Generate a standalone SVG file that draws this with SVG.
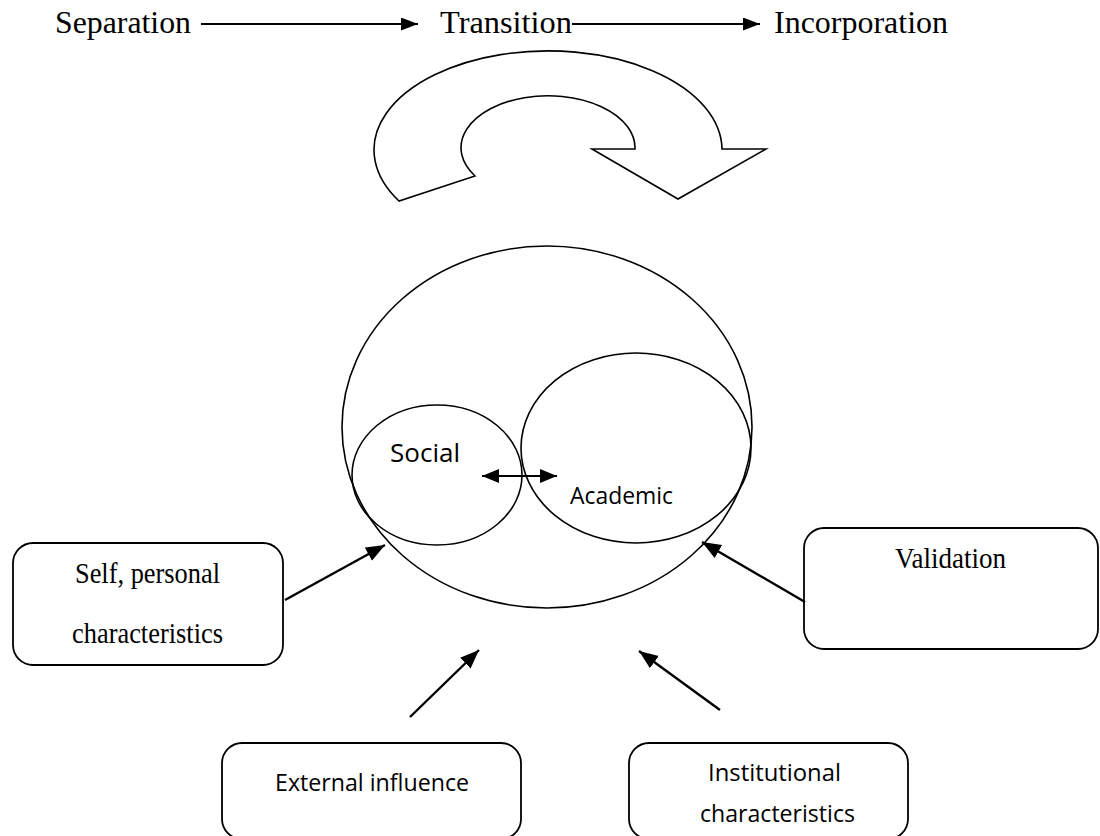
<svg xmlns="http://www.w3.org/2000/svg" width="1100" height="836" viewBox="0 0 1100 836">
<style>
.bg{fill:#fff}
.shape{fill:none;stroke:#000;stroke-width:1.6}
.box{fill:#fff;stroke:#000;stroke-width:1.8}
.serif{font-family:"Liberation Serif","Times New Roman",serif;fill:#000}
.sans{font-family:"Open Sans","Noto Sans","Liberation Sans",sans-serif;fill:#000}
.thin{stroke:#000;stroke-width:1.9;fill:none}
.conn{stroke:#000;stroke-width:2.4;fill:none}
</style>
<defs>
<marker id="headS" markerUnits="userSpaceOnUse" markerWidth="18" markerHeight="14" refX="17" refY="6.5" orient="auto">
<path d="M0,0 L17,6.5 L0,13 Z" fill="#000"/>
</marker>
<marker id="headL" markerUnits="userSpaceOnUse" markerWidth="20" markerHeight="16" refX="19" refY="7.5" orient="auto">
<path d="M0,0 L19,7.5 L0,15 Z" fill="#000"/>
</marker>
<marker id="headD" markerUnits="userSpaceOnUse" markerWidth="20" markerHeight="16" refX="17" refY="7" orient="auto-start-reverse">
<path d="M0,0 L17,7 L0,14 Z" fill="#000"/>
</marker>
</defs>
<rect class="bg" x="0" y="0" width="1100" height="836"/>

<g id="stage-separation"><text class="serif" x="55" y="33" font-size="31" textLength="136" lengthAdjust="spacingAndGlyphs">Separation</text></g>
<g id="stage-transition"><text class="serif" x="440" y="33" font-size="31" textLength="132" lengthAdjust="spacingAndGlyphs">Transition</text></g>
<g id="stage-incorporation"><text class="serif" x="774" y="33" font-size="31" textLength="174" lengthAdjust="spacingAndGlyphs">Incorporation</text></g>

<g id="cycle-arrow">
<path class="shape" d="M399,201 A174,99 0 1 1 722,149 L766,149 L678,199 L592,149 L635,149 A87,52 0 1 0 475,176 Z"/>
</g>

<g id="outer-circle"><ellipse class="shape" cx="547" cy="427" rx="205" ry="181"/></g>
<g id="social">
<ellipse class="shape" cx="437" cy="475" rx="85" ry="70"/>
<text class="sans" x="390" y="462" font-size="26" textLength="70" lengthAdjust="spacingAndGlyphs">Social</text>
</g>
<g id="academic">
<ellipse class="shape" cx="636" cy="448" rx="115" ry="95"/>
<text class="sans" x="570" y="504" font-size="23" textLength="103" lengthAdjust="spacingAndGlyphs">Academic</text>
</g>

<g id="self-box">
<rect class="box" x="13" y="543" width="270" height="122" rx="20"/>
<text class="serif" x="75" y="583" font-size="29" textLength="145" lengthAdjust="spacingAndGlyphs">Self, personal</text>
<text class="serif" x="72" y="643" font-size="29" textLength="151" lengthAdjust="spacingAndGlyphs">characteristics</text>
</g>
<g id="validation-box">
<rect class="box" x="804" y="528" width="294" height="121" rx="20"/>
<text class="serif" x="895" y="568" font-size="29" textLength="111" lengthAdjust="spacingAndGlyphs">Validation</text>
</g>
<g id="external-box">
<rect class="box" x="222" y="743" width="299" height="96" rx="20"/>
<text class="sans" x="275" y="791" font-size="23" textLength="194" lengthAdjust="spacingAndGlyphs">External influence</text>
</g>
<g id="institutional-box">
<rect class="box" x="629" y="743" width="279" height="96" rx="20"/>
<text class="sans" x="708" y="781" font-size="23" textLength="133" lengthAdjust="spacingAndGlyphs">Institutional</text>
<text class="sans" x="700" y="822" font-size="23" textLength="155" lengthAdjust="spacingAndGlyphs">characteristics</text>
</g>

<g id="connectors">
<line class="thin" x1="201" y1="24" x2="418" y2="24" marker-end="url(#headS)"/>
<line class="thin" x1="572" y1="24" x2="760" y2="24" marker-end="url(#headS)"/>
<line class="thin" x1="482" y1="476" x2="557" y2="476" marker-start="url(#headD)" marker-end="url(#headD)"/>
<line class="conn" x1="285" y1="600" x2="385" y2="545" marker-end="url(#headL)"/>
<line class="conn" x1="805" y1="602" x2="702" y2="542" marker-end="url(#headL)"/>
<line class="conn" x1="410" y1="717" x2="479" y2="650" marker-end="url(#headL)"/>
<line class="conn" x1="720" y1="710" x2="639" y2="651" marker-end="url(#headL)"/>
</g>
</svg>
